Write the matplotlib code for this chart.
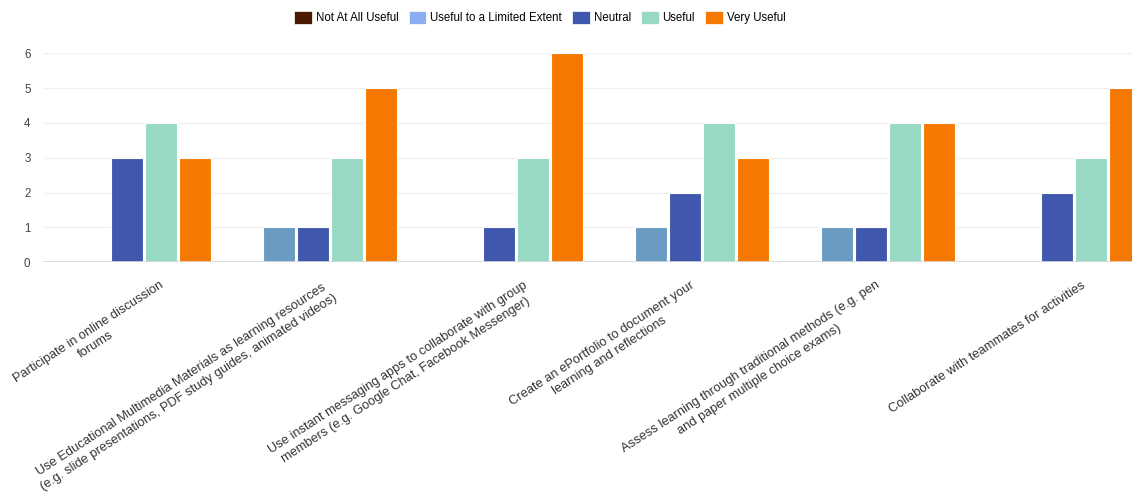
import matplotlib.pyplot as plt
import matplotlib.transforms as mtransforms
from matplotlib.patches import Patch
import numpy as np

plt.rcParams['font.family'] = ['Liberation Sans', 'DejaVu Sans']

# Data
categories = [
    "Participate in online discussion\nforums",
    "Use Educational Multimedia Materials as learning resources\n(e.g. slide presentations, PDF study guides, animated videos)",
    "Use instant messaging apps to collaborate with group\nmembers (e.g. Google Chat, Facebook Messenger)",
    "Create an ePortfolio to document your\nlearning and reflections",
    "Assess learning through traditional methods (e.g. pen\nand paper multiple choice exams)",
    "Collaborate with teammates for activities",
]
series_names = ["Not At All Useful", "Useful to a Limited Extent", "Neutral", "Useful", "Very Useful"]
not_at_all = [0, 0, 0, 0, 0, 0]
limited = [0, 1, 0, 1, 1, 0]
neutral = [3, 1, 1, 2, 1, 2]
useful = [4, 3, 3, 4, 4, 3]
very_useful = [3, 5, 6, 3, 4, 5]

values = [not_at_all, limited, neutral, useful, very_useful]
bar_colors = ['#4a1a00', '#6a9bc3', '#3f58ad', '#98d9c5', '#f57900']
legend_colors = ['#4a1a00', '#8caef0', '#3f58ad', '#98d9c5', '#f57900']

# small horizontal nudges (px) for the rotated labels
label_nudge = [12, -8, 4, -15, -15, 4]

fig = plt.figure(figsize=(11.32, 4.99), dpi=100)
# plot area runs a little past the right edge, like the original
ax = fig.add_axes([43 / 1132, 236.7 / 499, 1097.4 / 1132, 209 / 499])

x = np.arange(len(categories))
step = 0.183
width = 0.172
for i, vals in enumerate(values):
    ax.bar(x + (i - 2) * step, vals, width=width, color=bar_colors[i],
           edgecolor='white', linewidth=0.8, zorder=3)

ax.set_xlim(-0.45, len(categories) - 1 + 0.45)
ax.set_ylim(0, 6)
ax.set_yticks(range(0, 7))
ax.grid(axis='y', color='#f0f0f0', linewidth=1, zorder=0)
ax.axhline(0, color='#d8d8d8', linewidth=1.2, zorder=4)
for s in ax.spines.values():
    s.set_visible(False)
ax.tick_params(axis='y', length=0, pad=9, labelsize=8.3, labelcolor='#444444')
ax.tick_params(axis='x', length=0, pad=0)

ax.set_xticks(x)
ax.set_xticklabels(categories, rotation=33, ha='right', va='top',
                   rotation_mode='anchor', multialignment='center',
                   fontsize=9.3, color='#333333', linespacing=1.3)
for lab, nudge in zip(ax.get_xticklabels(), label_nudge):
    offset = mtransforms.ScaledTranslation((20 + nudge) / 100, -17 / 100, fig.dpi_scale_trans)
    lab.set_transform(lab.get_transform() + offset)

handles = [Patch(facecolor=c, edgecolor='white', linewidth=0.5) for c in legend_colors]
fig.legend(handles, series_names, loc='center', bbox_to_anchor=(540 / 1132, 1 - 17.5 / 499),
           ncol=5, frameon=False, fontsize=8.3, handlelength=1.5, handleheight=1.4,
           handletextpad=0.35, columnspacing=0.9)

fig.savefig('out.png', dpi=100)
